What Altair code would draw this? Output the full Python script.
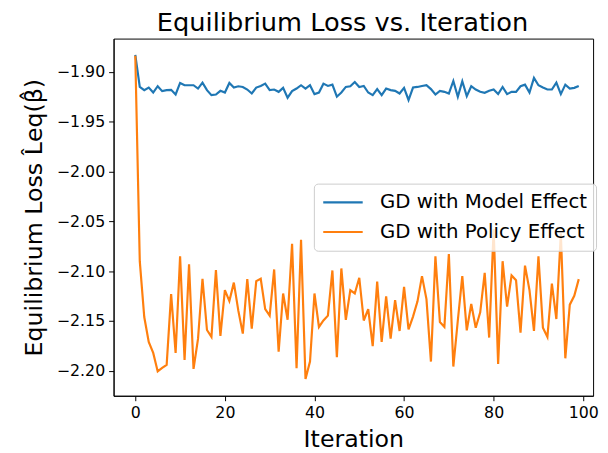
import altair as alt
import pandas as pd

iterations = list(range(100))

model_effect = [
    -1.8830, -1.9152, -1.9184, -1.9158, -1.9208, -1.9145, -1.9194, -1.9184, -1.9181, -1.9228,
    -1.9112, -1.9135, -1.9135, -1.9135, -1.9168, -1.9109, -1.9184, -1.9234, -1.9228, -1.9191,
    -1.9208, -1.9112, -1.9158, -1.9145, -1.9152, -1.9178, -1.9218, -1.9158, -1.9142, -1.9119,
    -1.9184, -1.9178, -1.9201, -1.9161, -1.9260, -1.9194, -1.9168, -1.9135, -1.9168, -1.9135,
    -1.9224, -1.9208, -1.9119, -1.9142, -1.9129, -1.9250, -1.9208, -1.9152, -1.9145, -1.9102,
    -1.9152, -1.9142, -1.9208, -1.9234, -1.9174, -1.9234, -1.9168, -1.9184, -1.9191, -1.9218,
    -1.9161, -1.9283, -1.9158, -1.9152, -1.9142, -1.9135, -1.9174, -1.9228, -1.9191, -1.9201,
    -1.9218, -1.9092, -1.9250, -1.9095, -1.9244, -1.9145, -1.9178, -1.9201, -1.9211, -1.9191,
    -1.9178, -1.9224, -1.9152, -1.9224, -1.9201, -1.9201, -1.9145, -1.9129, -1.9208, -1.9062,
    -1.9135, -1.9158, -1.9178, -1.9178, -1.9109, -1.9224, -1.9129, -1.9168, -1.9161, -1.9142,
]

policy_effect = [
    -1.8840, -2.0900, -2.1460, -2.1710, -2.1820, -2.2006, -2.1970, -2.1940, -2.1230, -2.1820,
    -2.0850, -2.1890, -2.0930, -2.1980, -2.1680, -2.1076, -2.1590, -2.1660, -2.0990, -2.1650,
    -2.1190, -2.1300, -2.1115, -2.1396, -2.1627, -2.1080, -2.1577, -2.1100, -2.1076, -2.1380,
    -2.1446, -2.0983, -2.1808, -2.1224, -2.1488, -2.0726, -2.1973, -2.0686, -2.2082, -2.1907,
    -2.1224, -2.1560, -2.1495, -2.1446, -2.0993, -2.1864, -2.0973, -2.1488, -2.1190, -2.1224,
    -2.1066, -2.1495, -2.1380, -2.1752, -2.1105, -2.1709, -2.1254, -2.1676, -2.1290, -2.1600,
    -2.1158, -2.1584, -2.1456, -2.1303, -2.1050, -2.1280, -2.1907, -2.0851, -2.1511, -2.1560,
    -2.0828, -2.1957, -2.1495, -2.1050, -2.1594, -2.1330, -2.1567, -2.1413, -2.1016, -2.1666,
    -2.0580, -2.1930, -2.0900, -2.1356, -2.1043, -2.1092, -2.1617, -2.0944, -2.1190, -2.1600,
    -2.0851, -2.1567, -2.1660, -2.1125, -2.1480, -2.0620, -2.1874, -2.1336, -2.1247, -2.1080,
]

series_names = ["GD with Model Effect", "GD with Policy Effect"]
series_colors = ["#1f77b4", "#ff7f0e"]
x_ticks = [0, 20, 40, 60, 80, 100]
y_ticks = [-2.20, -2.15, -2.10, -2.05, -2.00, -1.95, -1.90]

df = pd.concat([
    pd.DataFrame({"Iteration": iterations, "Loss": model_effect, "Series": series_names[0]}),
    pd.DataFrame({"Iteration": iterations, "Loss": policy_effect, "Series": series_names[1]}),
])

chart = alt.Chart(df).mark_line(strokeWidth=2.2, clip=True).encode(
    x=alt.X("Iteration:Q",
            scale=alt.Scale(domain=[-4.85, 102.2], nice=False, zero=False),
            axis=alt.Axis(values=x_ticks, title="Iteration", format="d")),
    y=alt.Y("Loss:Q",
            scale=alt.Scale(domain=[-2.225, -1.8667], nice=False, zero=False),
            axis=alt.Axis(values=y_ticks, title="Equilibrium Loss  L̂eq(β̂)",
                          labelExpr="replace(format(datum.value, '.2f'), '-', '\u2212')")),
    color=alt.Color("Series:N",
                    scale=alt.Scale(domain=series_names, range=series_colors),
                    legend=alt.Legend(title=None, orient="none", legendX=203, legendY=147,
                                      symbolType="stroke", symbolSize=1600, symbolStrokeWidth=2.2,
                                      labelFontSize=20, labelFont="DejaVu Sans", labelColor="black",
                                      labelLimit=400, labelOffset=16, padding=8, rowPadding=8,
                                      clipHeight=22,
                                      fillColor="rgba(255,255,255,0.8)", strokeColor="#cccccc",
                                      cornerRadius=4)),
).properties(
    width=486,
    height=362,
    title=alt.Title("Equilibrium Loss vs. Iteration", fontSize=26, font="DejaVu Sans",
                    fontWeight="normal", color="black", offset=3, dx=-11),
    autosize=alt.AutoSizeParams(type="none"),
    padding={"left": 107, "top": 28, "right": 7, "bottom": 55},
).configure(
    font="DejaVu Sans",
).configure_view(
    stroke="black", strokeWidth=1,
).configure_axis(
    grid=False, domainColor="black", domainWidth=1, tickColor="black", tickSize=5,
    tickWidth=1, labelColor="black", labelFontSize=16, labelFont="DejaVu Sans", labelPadding=4,
    titleFont="DejaVu Sans", titleFontSize=24, titleFontWeight="normal", titleColor="black",
).configure_axisY(titlePadding=10).configure_axisX(titlePadding=7)

chart.save("out.html", embed_options={"renderer": "svg", "actions": False})
